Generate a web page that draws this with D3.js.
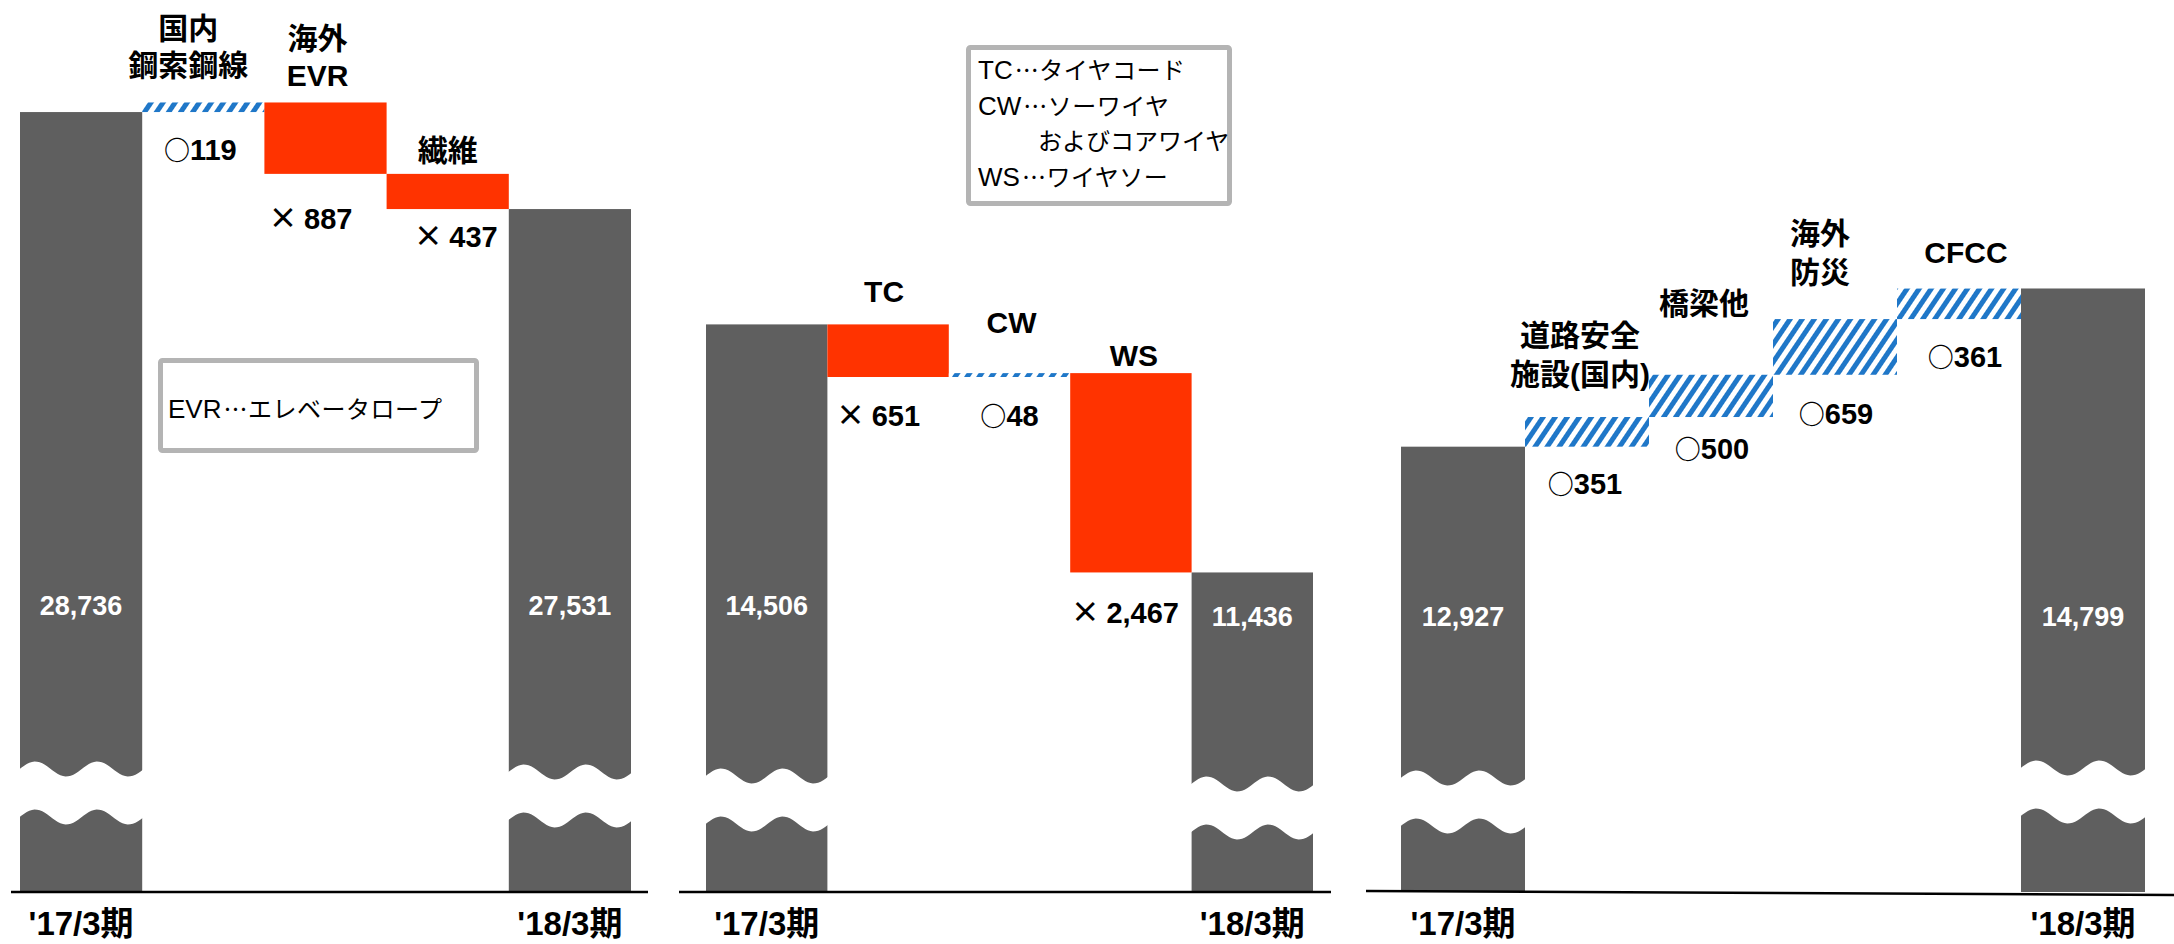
<!DOCTYPE html>
<html lang="ja">
<head>
<meta charset="utf-8">
<script src="https://cdn.jsdelivr.net/npm/d3@7"></script>
<style>
  html, body { margin: 0; padding: 0; background: #fff; }
  svg text { font-family: "Liberation Sans", "Noto Sans CJK JP", sans-serif; }
</style>
</head>
<body>
<svg id="chart" width="2174" height="944"></svg>
<script>
// ---- data ----------------------------------------------------------
const periodLabels = ["'17/3期", "'18/3期"];

// steel wire rope (百万円)
const ropeStart = 28736;
const ropeNames = [["国内", "鋼索鋼線"], ["海外", "EVR"], ["繊維"]];
const ropeDeltas = [119, -887, -437];
const ropeEnd = 27531;

// fine steel wire
const wireStart = 14506;
const wireNames = [["TC"], ["CW"], ["WS"]];
const wireDeltas = [-651, 48, -2467];
const wireEnd = 11436;

// civil engineering products
const civilStart = 12927;
const civilNames = [["道路安全", "施設(国内)"], ["橋梁他"], ["海外", "防災"], ["CFCC"]];
const civilDeltas = [351, 500, 659, 361];
const civilEnd = 14799;

// abbreviation notes
const ropeNotes = ["EVR…エレベータロープ"];
const wireNotes = ["TC…タイヤコード", "CW…ソーワイヤ", "およびコアワイヤ", "WS…ワイヤソー"];

// ---- layout --------------------------------------------------------
const axisY = 892;
const panels = [
  {
    start: ropeStart, names: ropeNames, deltas: ropeDeltas, end: ropeEnd,
    xRange: [20, 631], domain: [19047, 30128],
    axis: [11, 892, 648, 892],
    breaks: [769, 772],
    totalLabelY: [615, 615],
    nameDx: [-15, -8, 0], nameGap: [26, 16, 13], lineStep: 37,
    valueDx: [-3, -15, 8], valueGap: [48, 55, 38]
  },
  {
    start: wireStart, names: wireNames, deltas: wireDeltas, end: wireEnd,
    xRange: [706, 1313], domain: [7481, 18521],
    axis: [679, 892, 1331, 892],
    breaks: [776, 784],
    totalLabelY: [615, 626],
    nameDx: [-4, 2, 3], nameGap: [22, 40, 7], lineStep: 37,
    valueDx: [-10, 0, -6], valueGap: [49, 49, 51]
  },
  {
    start: civilStart, names: civilNames, deltas: civilDeltas, end: civilEnd,
    xRange: [1401, 2145], domain: [7657, 18213],
    axis: [1366, 891, 2174, 895],
    breaks: [778, 768],
    totalLabelY: [626, 626],
    nameDx: [-7, -7, -15, 7], nameGap: [32, 61, 36, 26], lineStep: 39,
    valueDx: [-2, 1, 1, 6], valueGap: [47, 42, 49, 48]
  }
];

const GRAY = "#5f5f5f", RED = "#ff3300", BLUE = "#1f77c8";
const CJK = "'Noto Sans CJK JP'", LATIN = "'Liberation Sans'";
const fmt = d3.format(",");

const svg = d3.select("#chart");

// diagonal stripe fill for increases
const pat = svg.append("defs").append("pattern")
  .attr("id", "stripes")
  .attr("patternUnits", "userSpaceOnUse")
  .attr("width", 10).attr("height", 10)
  .attr("patternTransform", "rotate(34)");
pat.append("rect").attr("width", 10).attr("height", 10).attr("fill", "#fff");
pat.append("rect").attr("width", 5).attr("height", 10).attr("fill", BLUE);

// wavy white band marking the broken value axis
function breakPath(x0, w, yMid) {
  const n = 48, A = 7.5, gap = 48, period = 0.5, t0 = 0.255;
  const upper = d3.range(n + 1).map(i => {
    const t = i / n;
    return [x0 - 1 + t * (w + 2), yMid + A * Math.sin(2 * Math.PI * (t - t0) / period)];
  });
  const lower = upper.map(([x, y]) => [x, y + gap]).reverse();
  return d3.line()(upper.concat(lower)) + "Z";
}

panels.forEach(p => {
  const g = svg.append("g");
  const n = p.deltas.length + 2;
  const x = d3.scaleBand().domain(d3.range(n)).range(p.xRange).padding(0);
  const y = d3.scaleLinear().domain(p.domain).range([axisY, 0]);

  // running totals for the waterfall steps
  let run = p.start;
  const steps = p.deltas.map((d, i) => {
    const from = run; run += d;
    return { i: i + 1, d, from, to: run };
  });

  // totals
  const totals = [{ i: 0, v: p.start }, { i: n - 1, v: p.end }];
  g.selectAll("rect.total").data(totals).join("rect")
    .attr("class", "total")
    .attr("x", d => x(d.i)).attr("width", x.bandwidth())
    .attr("y", d => y(d.v)).attr("height", d => y(p.domain[0]) - y(d.v))
    .attr("fill", GRAY);

  g.selectAll("path.brk").data(totals).join("path")
    .attr("class", "brk")
    .attr("d", (d, k) => breakPath(x(d.i), x.bandwidth(), p.breaks[k]))
    .attr("fill", "#fff");

  g.selectAll("text.total").data(totals).join("text")
    .attr("class", "total")
    .attr("x", d => x(d.i) + x.bandwidth() / 2)
    .attr("y", (d, k) => p.totalLabelY[k])
    .attr("text-anchor", "middle")
    .attr("font-size", 27).attr("font-weight", "bold")
    .attr("fill", "#fff")
    .text(d => fmt(d.v));

  // change steps
  g.selectAll("rect.step").data(steps).join("rect")
    .attr("class", "step")
    .attr("x", d => x(d.i)).attr("width", x.bandwidth())
    .attr("y", d => y(Math.max(d.from, d.to)))
    .attr("height", d => Math.abs(y(d.from) - y(d.to)))
    .attr("fill", d => d.d >= 0 ? "url(#stripes)" : RED);

  // step values below each step: ○ = increase, × = decrease
  steps.forEach((d, k) => {
    const t = g.append("text")
      .attr("x", x(d.i) + x.bandwidth() / 2 + p.valueDx[k])
      .attr("y", y(Math.min(d.from, d.to)) + p.valueGap[k])
      .attr("text-anchor", "middle")
      .attr("font-size", 29).attr("font-weight", "bold")
      .attr("fill", "#000");
    if (d.d >= 0) {
      t.append("tspan").style("font-family", CJK).attr("font-size", 26).text("○");
    } else {
      t.append("tspan").style("font-family", CJK).text("× ");
    }
    t.append("tspan").style("font-family", LATIN).text(fmt(Math.abs(d.d)));
  });

  // step names above each step
  steps.forEach((d, k) => {
    const lines = p.names[k];
    const top = y(Math.max(d.from, d.to));
    const base = top - p.nameGap[k];
    const t = g.append("text")
      .attr("text-anchor", "middle")
      .attr("font-size", 30).attr("font-weight", "bold")
      .attr("fill", "#000");
    lines.forEach((ln, j) => {
      t.append("tspan")
        .attr("x", x(d.i) + x.bandwidth() / 2 + p.nameDx[k])
        .attr("y", base - (lines.length - 1 - j) * p.lineStep)
        .text(ln);
    });
  });

  // baseline
  g.append("line")
    .attr("x1", p.axis[0]).attr("y1", p.axis[1])
    .attr("x2", p.axis[2]).attr("y2", p.axis[3])
    .attr("stroke", "#000").attr("stroke-width", 2.5);

  // period labels
  g.selectAll("text.period").data(totals).join("text")
    .attr("class", "period")
    .attr("x", d => x(d.i) + x.bandwidth() / 2)
    .attr("y", 935)
    .attr("text-anchor", "middle")
    .attr("font-size", 33).attr("font-weight", "bold")
    .attr("fill", "#000")
    .text((d, k) => periodLabels[k]);
});

// abbreviation boxes
function noteBox(box, lines, textX, baselines, indent) {
  const g = svg.append("g");
  g.append("rect")
    .attr("x", box[0] + 2.5).attr("y", box[1] + 2.5)
    .attr("width", box[2] - 5).attr("height", box[3] - 5)
    .attr("rx", 2).attr("fill", "#fff")
    .attr("stroke", "#b4b4b4").attr("stroke-width", 5);
  lines.forEach((ln, j) => {
    const t = g.append("text")
      .attr("x", ln.includes("…") ? textX : textX + indent)
      .attr("y", baselines[j])
      .attr("font-size", 24).attr("fill", "#000");
    const cut = ln.indexOf("…");
    if (cut >= 0) {
      t.append("tspan").style("font-family", LATIN).attr("font-size", 26).text(ln.slice(0, cut));
      t.append("tspan").style("font-family", CJK).attr("dx", 2).attr("letter-spacing", 0.5).text(ln.slice(cut));
    } else {
      t.append("tspan").style("font-family", CJK).text(ln);
    }
  });
}
noteBox([158, 358, 321, 95], ropeNotes, 168, [418], 0);
noteBox([966, 45, 266, 161], wireNotes, 978, [79, 115, 150, 186], 60);
</script>
</body>
</html>
